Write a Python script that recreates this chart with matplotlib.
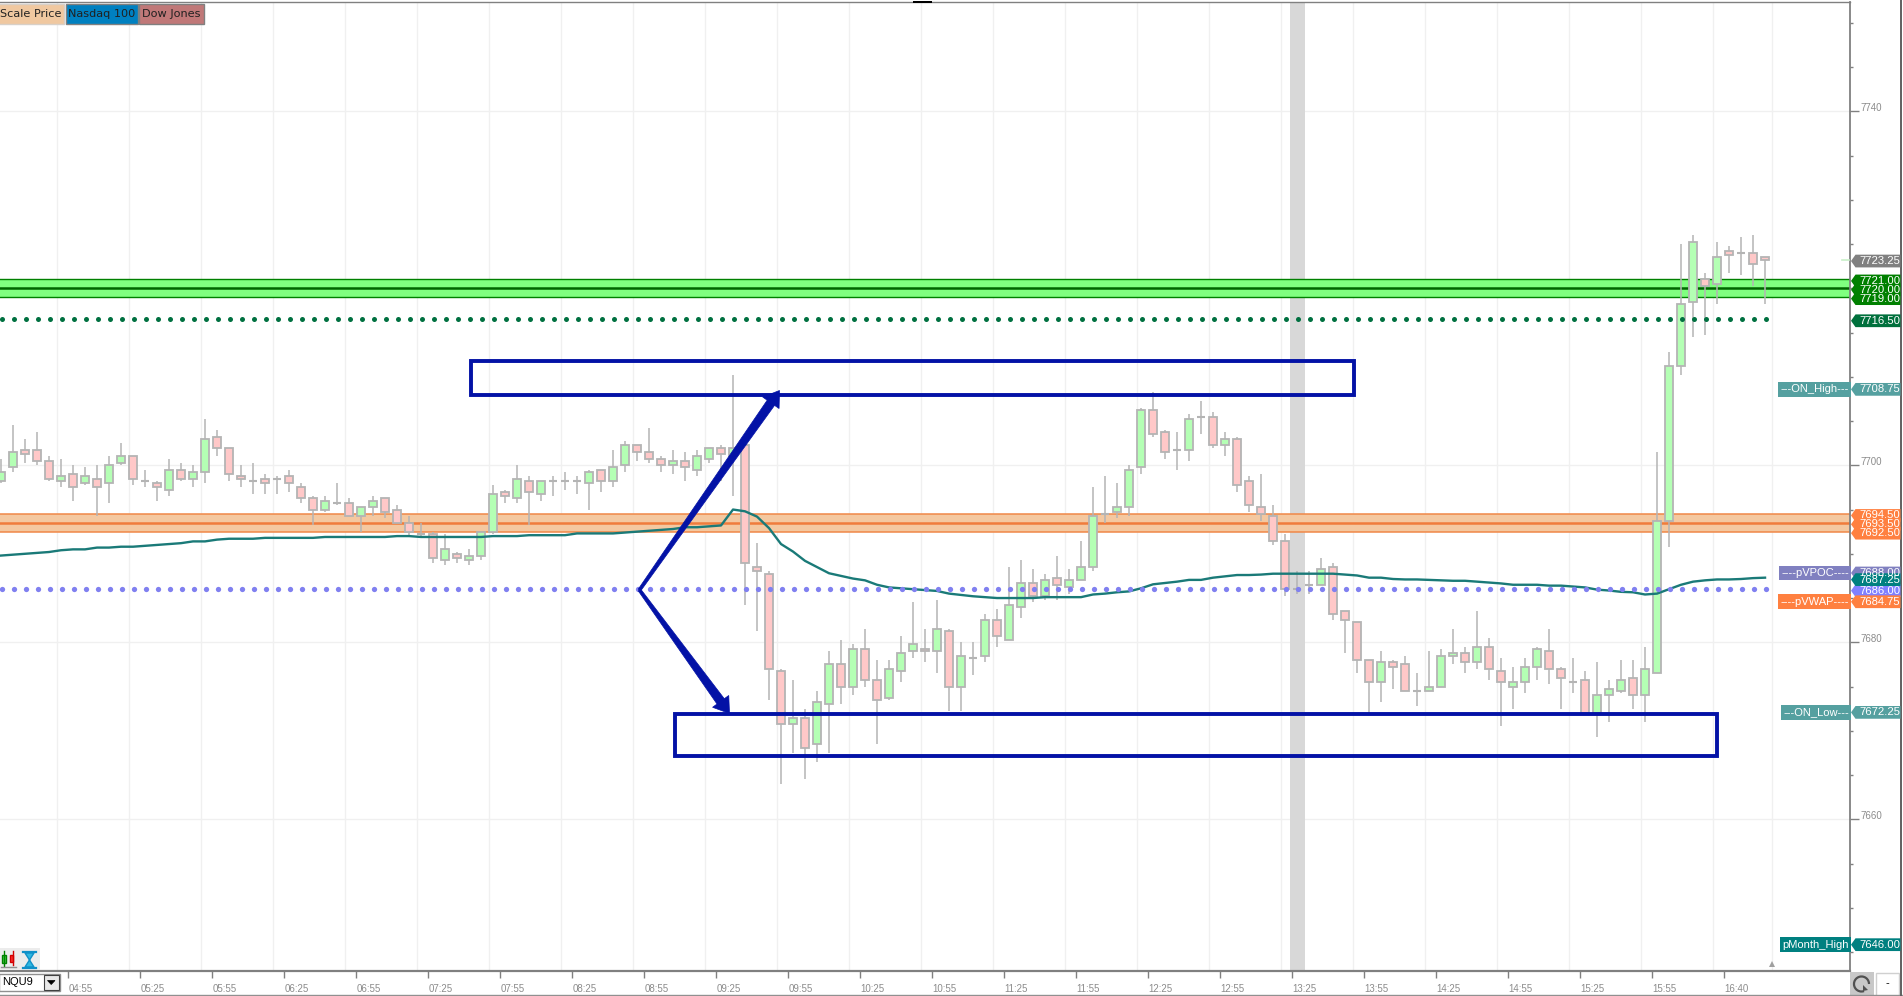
import numpy as np
import matplotlib
matplotlib.use('Agg')
import matplotlib.pyplot as plt
from matplotlib.patches import Rectangle, Polygon, Arc

plt.rcParams['font.family'] = ['Liberation Sans', 'DejaVu Sans']

# 5 minute bars
opens = [7698.25, 7699.75, 7701.75, 7701.75, 7700.5, 7698.25, 7699, 7698, 7698.5, 7698,
	7700.25, 7701, 7698.25, 7698, 7697.25, 7699.5, 7698.5, 7699.25, 7703.25, 7702,
	7698.75, 7698.25, 7698.5, 7698.5, 7698.75, 7697.5, 7696.25, 7695, 7695.75, 7695.75,
	7694.25, 7695.25, 7696.25, 7695, 7693.5, 7692.25, 7692.25, 7689.25, 7690, 7689.25,
	7689.75, 7692.5, 7697, 7696.25, 7698.25, 7696.75, 7698.25, 7698.25, 7698.25, 7698,
	7699.5, 7698.25, 7700, 7702.25, 7701.5, 7700.75, 7700, 7700.5, 7699.5, 7700.75,
	7702, 7701, 7702.25, 7688.5, 7687.75, 7676.75, 7670.75, 7671.5, 7668.5, 7673,
	7677.5, 7675, 7679.25, 7675.75, 7673.75, 7676.75, 7679, 7679.25, 7679, 7681.25,
	7675, 7678.25, 7678.5, 7682.5, 7680.25, 7684, 7686.75, 7685.25, 7687.25, 7686.25,
	7687, 7688.5, 7694.5, 7694.75, 7695.25, 7699.75, 7706.25, 7703.75, 7701.75, 7701.75,
	7705.5, 7705.5, 7702.25, 7703, 7698.25, 7695.25, 7694.25, 7691.5, 7686, 7686.5,
	7686.5, 7688.5, 7683.5, 7682.25, 7678, 7675.5, 7677.75, 7677.5, 7674.5, 7674.5,
	7675, 7678.5, 7678.75, 7677.75, 7679.5, 7676.75, 7675, 7675.5, 7677.25, 7679,
	7677, 7675.5, 7675.75, 7672, 7674, 7674.5, 7676, 7674, 7676.5, 7693.75,
	7711.25, 7718.5, 7721, 7720.5, 7724.25, 7724, 7724, 7723.5]
highs = [7700.75, 7704.5, 7703, 7703.75, 7701, 7700.75, 7700, 7699.75, 7700, 7701,
	7702.5, 7701, 7699.5, 7698.25, 7700.75, 7700.25, 7700, 7705.25, 7704, 7702,
	7700, 7700.25, 7699, 7698.75, 7699.5, 7698, 7696.5, 7696.5, 7698, 7696.25,
	7695.25, 7696.5, 7696.25, 7695.5, 7694.25, 7693.5, 7692.5, 7692.25, 7690.25, 7690.5,
	7692.5, 7697.75, 7697.25, 7700, 7698.75, 7698.25, 7698.75, 7699.25, 7698.75, 7699.5,
	7699.5, 7701.75, 7702.75, 7702.25, 7704.25, 7701, 7701.75, 7701.5, 7701.75, 7702,
	7702.25, 7710.25, 7702.25, 7691.25, 7688, 7677, 7675.75, 7672.5, 7674.5, 7679,
	7680.25, 7679.75, 7681.5, 7678, 7678, 7680.75, 7684.5, 7681.5, 7684.75, 7681.5,
	7680, 7680, 7683.25, 7683.75, 7688.5, 7689.25, 7688.25, 7687.75, 7689.75, 7688.25,
	7691.5, 7697.5, 7698.75, 7698, 7700, 7706.5, 7708.25, 7704, 7703.75, 7705.75,
	7707.25, 7706, 7703.75, 7703.25, 7698.75, 7699, 7695.5, 7692.25, 7688, 7688,
	7689.5, 7689, 7683.5, 7682.25, 7678, 7679, 7678, 7678.5, 7676.5, 7679,
	7679.25, 7681.5, 7679.5, 7683.5, 7680.5, 7678.25, 7677.25, 7678.25, 7679.5, 7681.5,
	7677.25, 7678.25, 7676.75, 7677.75, 7675.75, 7678, 7678, 7679.5, 7701.5, 7712.75,
	7725, 7726, 7721.75, 7725.25, 7724.75, 7725.75, 7726, 7723.5]
lows = [7698, 7699.25, 7700.25, 7700, 7698.25, 7697.5, 7696, 7697.75, 7694.25, 7695.75,
	7700, 7697.75, 7697.5, 7696, 7696.5, 7698.25, 7697.5, 7698, 7701, 7698.25,
	7697.5, 7696.75, 7696.75, 7696.75, 7697, 7695.75, 7693.25, 7694.75, 7695.5, 7694.25,
	7692.5, 7694.25, 7694, 7693.5, 7692, 7692, 7689, 7688.75, 7689, 7688.75,
	7689.25, 7692.25, 7695.75, 7695.75, 7693.25, 7696, 7696.5, 7697.25, 7696.75, 7695,
	7697, 7697.5, 7699.25, 7700.5, 7700.25, 7699.25, 7699, 7698.25, 7698.75, 7700.25,
	7698.25, 7696.5, 7684.25, 7681.25, 7673.5, 7664, 7667.5, 7664.5, 7666.5, 7667.5,
	7673, 7674, 7675, 7668.5, 7673.5, 7675.5, 7678.25, 7677.75, 7676.5, 7672.25,
	7672.25, 7676.25, 7677.75, 7679.5, 7680.25, 7682.75, 7684.5, 7684.75, 7684.75, 7685.5,
	7687, 7688, 7693.5, 7694, 7694.25, 7699, 7703.25, 7700.75, 7699.5, 7700.5,
	7703.5, 7702, 7701, 7697, 7694.75, 7693.75, 7691, 7685.25, 7685.5, 7685.5,
	7686.5, 7682.5, 7678.75, 7676.5, 7672, 7673.25, 7674.75, 7674.5, 7672.75, 7674.5,
	7675, 7677.5, 7676.5, 7677, 7675.75, 7670.5, 7672.5, 7674.25, 7675.75, 7675.25,
	7672.5, 7674.25, 7672, 7669.25, 7671, 7674.25, 7672.5, 7671, 7676.5, 7690.75,
	7710.25, 7714.5, 7714.75, 7718.25, 7721.75, 7721.5, 7720.25, 7718.25]
closes = [7699.25, 7701.5, 7701.25, 7700.5, 7698.5, 7698.75, 7697.5, 7698.75, 7697.5, 7700,
	7701, 7698.5, 7698.25, 7697.5, 7699.5, 7698.5, 7699.25, 7703, 7702, 7699,
	7698.5, 7698.25, 7698, 7698.5, 7698, 7696.25, 7695, 7696, 7695.75, 7694.25,
	7695.25, 7696, 7694.75, 7693.5, 7692.5, 7692.25, 7689.5, 7690.5, 7689.5, 7689.75,
	7692.5, 7696.75, 7696.5, 7698.5, 7697, 7698.25, 7698.25, 7698.25, 7698.25, 7699.25,
	7698.25, 7699.75, 7702.25, 7701.5, 7700.75, 7700, 7700.5, 7699.75, 7701, 7702,
	7701.25, 7702, 7689, 7688, 7677, 7670.75, 7671.5, 7668, 7673.25, 7677.5,
	7675, 7679.25, 7675.75, 7673.5, 7677, 7678.75, 7679.75, 7679, 7681.5, 7675,
	7678.5, 7678.25, 7682.5, 7680.75, 7684.25, 7686.75, 7685.25, 7687, 7686.5, 7687,
	7688.5, 7694.25, 7694.5, 7695.25, 7699.5, 7706.25, 7703.5, 7701.5, 7701.75, 7705.25,
	7705.5, 7702.25, 7703, 7697.75, 7695.5, 7694.5, 7691.5, 7686, 7686, 7686.5,
	7688.25, 7683.25, 7682.5, 7678, 7675.5, 7677.75, 7677.25, 7674.5, 7674.5, 7675,
	7678.5, 7678.75, 7677.75, 7679.5, 7677, 7675.5, 7675.5, 7677.25, 7679.25, 7677,
	7676, 7675.5, 7672, 7674, 7674.75, 7675.75, 7674, 7677, 7693.75, 7711.25,
	7718.25, 7725.25, 7720.25, 7723.5, 7723.75, 7724, 7722.75, 7723.25]
vwap = [7689.8, 7689.9, 7690.0, 7690.1, 7690.2, 7690.4, 7690.5, 7690.5, 7690.7, 7690.7,
	7690.8, 7690.8, 7690.9, 7691.0, 7691.1, 7691.2, 7691.4, 7691.4, 7691.6, 7691.7,
	7691.7, 7691.7, 7691.8, 7691.8, 7691.8, 7691.8, 7691.8, 7691.9, 7691.9, 7691.9,
	7691.9, 7691.9, 7691.9, 7692.0, 7692.0, 7691.9, 7691.9, 7691.9, 7691.9, 7691.9,
	7691.9, 7692.0, 7692.0, 7692.0, 7692.1, 7692.1, 7692.1, 7692.1, 7692.3, 7692.3,
	7692.3, 7692.3, 7692.4, 7692.5, 7692.6, 7692.7, 7692.8, 7693.0, 7693.0, 7693.1,
	7693.2, 7695.0, 7694.8, 7694.2, 7692.9, 7691.1, 7690.25, 7689.2, 7688.5, 7687.8,
	7687.5, 7687.2, 7687.0, 7686.5, 7686.2, 7686.1, 7686.0, 7685.9, 7685.8, 7685.5,
	7685.35, 7685.2, 7685.1, 7685.0, 7685.0, 7685.0, 7685.0, 7685.1, 7685.1, 7685.1,
	7685.1, 7685.4, 7685.5, 7685.65, 7685.75, 7686.1, 7686.55, 7686.7, 7686.85, 7687.05,
	7687.05, 7687.3, 7687.45, 7687.6, 7687.6, 7687.65, 7687.75, 7687.75, 7687.75, 7687.75,
	7687.75, 7687.75, 7687.65, 7687.55, 7687.3, 7687.3, 7687.15, 7687.1, 7687.1, 7687.05,
	7687.0, 7686.95, 7686.95, 7686.85, 7686.75, 7686.65, 7686.5, 7686.5, 7686.5, 7686.4,
	7686.4, 7686.3, 7686.2, 7685.95, 7685.85, 7685.7, 7685.65, 7685.4, 7685.5, 7686.0,
	7686.5, 7686.85, 7687.0, 7687.1, 7687.1, 7687.15, 7687.25, 7687.3]

time_labels = ['04:55', '05:25', '05:55', '06:25', '06:55', '07:25', '07:55', '08:25',
	'08:55', '09:25', '09:55', '10:25', '10:55', '11:25', '11:55', '12:25', '12:55',
	'13:25', '13:55', '14:25', '14:55', '15:25', '15:55', '16:40']

green_band = [7719, 7720, 7721]
orange_band = [7692.5, 7693.5, 7694.5]
green_dots = 7716.5
blue_dots = 7686.0

# price, colour of the flag on the scale, optional tag to the left of it
flags = [(7723.25, '#808080', None), (7721.00, '#008000', None), (7719.00, '#008000', None),
	(7720.00, '#008000', None), (7716.50, '#00703c', None), (7708.75, '#55a0a0', '---ON_High---'),
	(7694.50, '#ff8040', None), (7692.50, '#ff8040', None), (7693.50, '#ff8040', None),
	(7688.00, '#8080c0', '----pVPOC----'), (7686.00, '#8080ff', None), (7687.25, '#008080', None),
	(7684.75, '#ff8040', '----pVWAP----'), (7672.25, '#55a0a0', '---ON_Low---'),
	(7646.00, '#008080', 'pMonth_High')]

# user drawn boxes: first bar, last bar, low price, high price
box_high = (39.17, 112.75, 7707.95, 7711.8)
box_low = (56.17, 143.0, 7667.2, 7671.9)

BLUE = '#0312a6'
GREY = '#8c8c8c'
WICK = '#b4b4b4'
FLAG_SHIFT = 0.17  # flags sit a little under their price in the platform
W, H = 1903, 996
AX_R, AX_T, AX_B = 1850, 2, 970.7
bars = np.arange(len(opens))

fig = plt.figure(figsize=(W / 100, H / 100), dpi=100)
ax = fig.add_axes([0, (H - AX_B) / H, AX_R / W, (AX_B - AX_T) / H])
ax.set_xlim(-0.0833, 154.08)
ax.set_ylim(7642.89, 7752.35)

# axes and grid
grid_x = list(4.64 + 6 * np.arange(24)) + [147.55]
ax.set_xticks(5.6 + 6 * np.arange(len(time_labels)))
ax.set_xticklabels(time_labels, ha='left', fontsize=7, color=GREY)
ax.set_xticks(grid_x, minor=True)
ax.yaxis.tick_right()
ax.set_yticks(np.arange(7660, 7741, 20))
ax.set_yticklabels(['7660', '7680', '7700', '7720', '7740'], fontsize=7, color=GREY, va='baseline')
ax.set_yticks(np.arange(7645, 7751, 5), minor=True)
ax.tick_params(axis='x', which='major', length=5, width=1, color='#808080', pad=4.6)
ax.tick_params(axis='x', which='minor', length=0)
ax.tick_params(axis='y', which='major', length=6.5, width=1, color='#808080', pad=1)
ax.tick_params(axis='y', which='minor', length=2.5, width=1, color='#808080')
ax.grid(True, which='minor', axis='x', color='#f0f0f0', lw=1, zorder=0)
ax.grid(True, which='major', axis='y', color='#f0f0f0', lw=1, zorder=0)
ax.set_axisbelow(True)
ax.spines['left'].set_visible(False)
for name, lw in [('right', 1.3), ('bottom', 1.6), ('top', 1.0)]:
	ax.spines[name].set_color('#808080')
	ax.spines[name].set_linewidth(lw)

# session marker
ax.axvspan(107.42, 108.67, color='#d8d8d8', lw=0, zorder=1)

# level bands
ax.axhspan(green_band[0], green_band[2], color='#80ff80', lw=0, zorder=2)
ax.axhspan(orange_band[0], orange_band[2], color='#f4c8a0', lw=0, zorder=2)
for level, col, lw in [(green_band[0], '#008000', 1), (green_band[2], '#008000', 1),
		(green_band[1], '#006400', 1.8), (orange_band[0], '#f08848', 1.1),
		(orange_band[2], '#f08848', 1.1), (orange_band[1], '#f07c3c', 1.8)]:
	ax.axhline(level, color=col, lw=lw, zorder=2.1)

# candles
o, h, l, c = map(np.array, (opens, highs, lows, closes))
ax.vlines(bars, l, h, color=WICK, lw=1.1, zorder=3)
up = c > o
down = c < o
ax.bar(bars[up], (c - o)[up], bottom=o[up], width=0.62, color='#b4ffb4', edgecolor=WICK, lw=1.3, zorder=4)
ax.bar(bars[down], (o - c)[down], bottom=c[down], width=0.62, color='#ffc8c8', edgecolor=WICK, lw=1.3, zorder=4)
flat = c == o
ax.hlines(o[flat], bars[flat] - 0.36, bars[flat] + 0.36, color=WICK, lw=1.5, zorder=4)

# vwap and dotted levels
ax.plot(bars, vwap, color='#1a7a78', lw=1.7, zorder=5)
ax.plot(bars + 0.1, np.full(len(bars), green_dots), ls='none', marker='o', ms=3.6, mew=0, color='#007040', zorder=6)
ax.plot(bars + 0.1, np.full(len(bars), blue_dots), ls='none', marker='o', ms=3.8, mew=0, color='#8080f0', zorder=6)

# user boxes
for x0, x1, y0, y1 in (box_high, box_low):
	ax.add_patch(Rectangle((x0, y0), x1 - x0, y1 - y0, fill=False, ec=BLUE, lw=2.8, joinstyle='miter', zorder=7))

# small marks near the scale
ax.plot([153.4, 154.0], [7723.25, 7723.25], color='#c8f0c8', lw=1.2, zorder=3)
ax.plot([147.55], [7643.6], marker='^', ms=5, mew=0, color='#a0a0a0', clip_on=False, zorder=3)

# tags left of the scale
for price, col, tag in flags:
	if tag:
		ax.text(0.9994, price - FLAG_SHIFT, tag, transform=ax.get_yaxis_transform(), ha='right', va='center',
			fontsize=8, color='white', zorder=8,
			bbox=dict(boxstyle='square,pad=0.22', fc=col, ec='none'))

# window chrome, in pixels of the picture
ui = fig.add_axes([0, 0, 1, 1], zorder=2)
ui.set_xlim(0, W)
ui.set_ylim(H, 0)
ui.axis('off')
ui.patch.set_alpha(0)


def tapered_arrow(start, tip):
	# thin at the start, thick near the head, as the hand drawn arrows
	start, tip = np.array(start, float), np.array(tip, float)
	d = (tip - start) / np.hypot(*(tip - start))
	n = np.array([-d[1], d[0]])
	base = tip - d * 15
	pts = [start + n * 1.5, base + n * 4.5, base + n * 10, tip, base - n * 10, base - n * 4.5, start - n * 1.5]
	ui.add_patch(Polygon(pts, closed=True, fc=BLUE, ec=BLUE, lw=0.5))


tapered_arrow((639.5, 590), (779.5, 390.5))
tapered_arrow((639.5, 590), (729.5, 713.5))

# symbol buttons
for x0, x1, col, edge, label, tx in [(-2, 63.5, '#f0c8a0', '#d8d0c8', 'Scale Price', 0),
		(65.5, 137.5, '#0080c0', '#808080', 'Nasdaq 100', 68),
		(139, 204, '#c07878', '#808080', 'Dow Jones', 141.5)]:
	ui.add_patch(Rectangle((x0, 3.5), x1 - x0, 20.5, fc=col, ec=edge, lw=1))
	ui.text(tx, 14, label, fontsize=8.1, family='DejaVu Sans', color='#202020', va='center', ha='left')

# small toolbar icons
ui.add_patch(Rectangle((0, 948), 40, 22, fc='#ececec', ec='none'))
ui.add_patch(Rectangle((2, 955), 4, 8, fc='#40d040', ec='#008000', lw=1))
ui.plot([4, 4], [951, 966], color='#008000', lw=1)
ui.add_patch(Rectangle((10, 955), 3, 7, fc='#ff3030', ec='#d00000', lw=1))
ui.plot([13, 13], [951, 965], color='#d00000', lw=1)
ui.plot([1, 16], [967, 967], color='#909090', lw=1)
ui.add_patch(Polygon([(25, 953), (34, 953), (29.5, 960), (34, 967), (25, 967), (29.5, 960)], fc='#30b8e0', ec='#1090c8', lw=1))
ui.plot([23, 36], [951.5, 951.5], color='#1090c8', lw=1.6)
ui.plot([23, 36], [967.5, 967.5], color='#1090c8', lw=1.6)

# instrument box
ui.add_patch(Rectangle((-1, 973.5), 61, 17.5, fc='white', ec='#909090', lw=1))
ui.add_patch(Rectangle((43.5, 974.5), 15.5, 15, fc='#e8e8e8', ec='#404040', lw=0.8))
ui.add_patch(Polygon([(47.5, 980.5), (55, 980.5), (51.2, 984.5)], fc='black', ec='black', lw=0.5))
ui.text(2, 982, 'NQU9', fontsize=8, color='black', va='center', ha='left')

# lower right buttons and frame
ui.plot([0, W], [995, 995], color='#909090', lw=1)
ui.plot([1900.5, 1900.5], [0, H], color='#606060', lw=1.4)
ui.add_patch(Rectangle((1850, 972), 24, 24, fc='#c8c8c8', ec='none'))
ui.add_patch(Arc((1861.5, 984), 15, 15, angle=0, theta1=70, theta2=360, ec='#505050', lw=1.6))
ui.add_patch(Polygon([(1863, 985), (1868, 990), (1863, 991)], fc='#505050', ec='none'))
ui.add_patch(Rectangle((1875.5, 972.5), 23, 23, fc='white', ec='#d0d0d0', lw=1))
ui.text(1887, 983, '-', fontsize=8, color='black', ha='center', va='center')
ui.add_patch(Rectangle((913, 0.5), 19, 2.5, fc='black', ec='none'))

# price flags on the scale
sc = fig.add_axes([AX_R / W, (H - AX_B) / H, (W - AX_R) / W, (AX_B - AX_T) / H], zorder=3)
sc.set_xlim(0, W - AX_R)
sc.set_ylim(ax.get_ylim())
sc.axis('off')
sc.patch.set_alpha(0)
half = 0.72
for price, col, tag in flags:
	p = price - FLAG_SHIFT
	sc.add_patch(Polygon([(1, p), (5.5, p + half), (50.5, p + half),
		(50.5, p - half), (5.5, p - half)], fc=col, ec='none'))
	sc.text(9, p, '%.2f' % price, fontsize=8.1, color='white', va='center', ha='left')

fig.savefig('out.png', dpi=100)
